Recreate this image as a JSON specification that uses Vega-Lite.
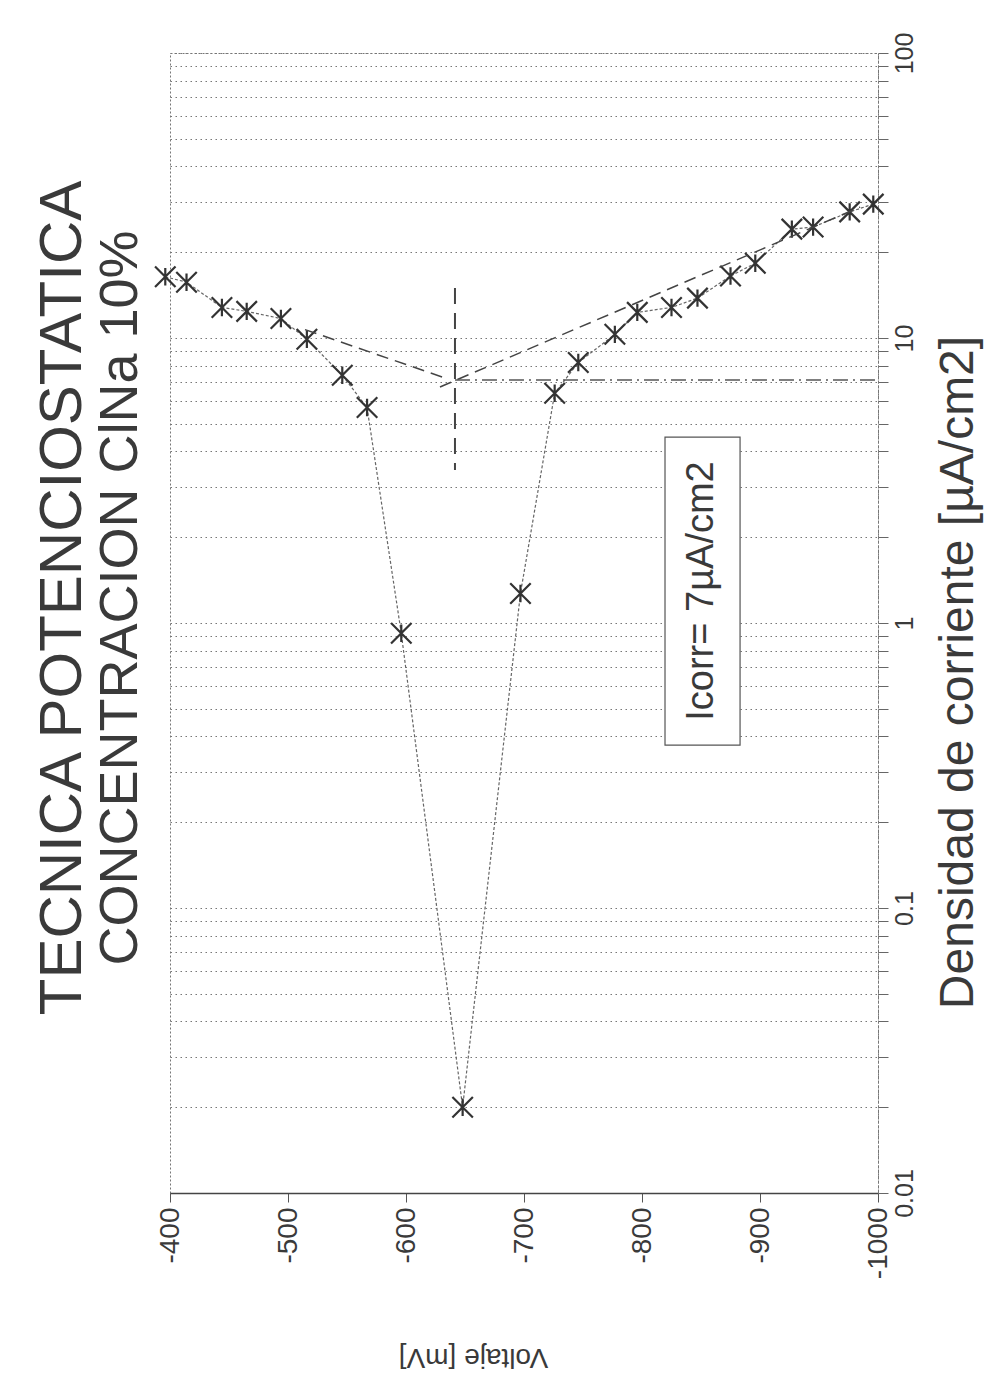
{
  "$schema": "https://vega.github.io/schema/vega-lite/v6.json",
  "width": 708,
  "height": 1140,
  "autosize": "none",
  "padding": {"left": 170, "top": 53, "right": 108, "bottom": 192},
  "background": "white",
  "config": {
    "font": "Liberation Sans",
    "view": {"stroke": "#777", "strokeDash": [2, 2], "strokeWidth": 1}
  },
  "title": {
    "text": "TECNICA POTENCIOSTATICA",
    "subtitle": "CONCENTRACION ClNa 10%",
    "orient": "left",
    "anchor": "middle",
    "font": "Liberation Sans",
    "subtitleFont": "Liberation Sans",
    "fontSize": 60,
    "subtitleFontSize": 54,
    "fontWeight": "normal",
    "subtitleFontWeight": "normal",
    "color": "#3a3a3a",
    "subtitleColor": "#3a3a3a",
    "offset": 2,
    "subtitlePadding": 0,
    "dx": 25
  },
  "datasets": {
    "curve": [
      {"V": -396, "I": 16.4},
      {"V": -414, "I": 15.7},
      {"V": -444, "I": 12.8},
      {"V": -465, "I": 12.4},
      {"V": -494, "I": 11.7},
      {"V": -516, "I": 9.9},
      {"V": -546, "I": 7.4},
      {"V": -567, "I": 5.7},
      {"V": -596, "I": 0.92},
      {"V": -648, "I": 0.02},
      {"V": -697, "I": 1.27},
      {"V": -726, "I": 6.4},
      {"V": -746, "I": 8.2},
      {"V": -777, "I": 10.3},
      {"V": -796, "I": 12.3},
      {"V": -825, "I": 12.8},
      {"V": -847, "I": 13.8},
      {"V": -875, "I": 16.5},
      {"V": -896, "I": 18.3},
      {"V": -927, "I": 24.1},
      {"V": -945, "I": 24.5},
      {"V": -976, "I": 27.7},
      {"V": -996, "I": 29.5}
    ],
    "tafel": [
      {"kind": "slope", "V": -514.4, "I": 10.7, "V2": -633.1, "I2": 7.24},
      {"kind": "slope", "V": -628.8, "I": 6.73, "V2": -984.8, "I2": 28.8},
      {"kind": "ecorr", "V": -641.5, "I": 14.97, "V2": -641.5, "I2": 3.44},
      {"kind": "icorr", "V": -641.5, "I": 7.12, "V2": -997.5, "I2": 7.12}
    ],
    "note": [
      {"label": "Icorr= 7µA/cm2", "V": -851, "I": 1.295, "Vb1": -819.5, "Vb2": -883.1, "Ib1": 4.49, "Ib2": 0.373}
    ]
  },
  "encoding": {
    "x": {
      "field": "V",
      "type": "quantitative",
      "scale": {"domain": [-1000, -400], "reverse": true, "nice": false, "zero": false},
      "axis": {
        "orient": "bottom",
        "title": "Voltaje [mV]",
        "values": [-400, -500, -600, -700, -800, -900, -1000],
        "labelExpr": "'-' + abs(datum.value)",
        "grid": false,
        "domainColor": "#444",
        "domainWidth": 1.5,
        "tickColor": "#555",
        "tickSize": 9,
        "labelAngle": 270,
        "labelAlign": "right",
        "labelBaseline": "middle",
        "labelPadding": 5,
        "labelFontSize": 28,
        "labelColor": "#3a3a3a",
        "labelFlush": false,
        "labelOverlap": false,
        "titleFontSize": 28,
        "titleFontWeight": "normal",
        "titleColor": "#3a3a3a",
        "titleAngle": 180,
        "titleAlign": "center",
        "titleBaseline": "middle",
        "titleX": 303,
        "titleY": 163
      }
    },
    "y": {
      "field": "I",
      "type": "quantitative",
      "scale": {"type": "log", "domain": [0.01, 100], "nice": false},
      "axis": {
        "orient": "right",
        "title": "Densidad de corriente [µA/cm2]",
        "values": [0.01, 0.02, 0.03, 0.04, 0.05, 0.06, 0.07, 0.08, 0.09, 0.1, 0.2, 0.3, 0.4, 0.5, 0.6, 0.7, 0.8, 0.9, 1, 2, 3, 4, 5, 6, 7, 8, 9, 10, 20, 30, 40, 50, 60, 70, 80, 90, 100],
        "labelExpr": "datum.value == 0.01 ? '0.01' : datum.value == 0.1 ? '0.1' : datum.value == 1 ? '1' : datum.value == 10 ? '10' : datum.value == 100 ? '100' : ''",
        "grid": true,
        "gridColor": "#777",
        "gridDash": [1.5, 3.5],
        "gridWidth": 1,
        "domainColor": "#777",
        "domainDash": [3, 2],
        "tickColor": "#666",
        "tickSize": 10,
        "labelAngle": 270,
        "labelAlign": "center",
        "labelBaseline": "top",
        "labelPadding": 4,
        "labelFontSize": 25,
        "labelColor": "#3a3a3a",
        "labelFlush": false,
        "labelOverlap": false,
        "labelBound": false,
        "titleFontSize": 48,
        "titleFontWeight": "normal",
        "titleColor": "#3a3a3a",
        "titleAngle": 270,
        "titleAlign": "center",
        "titleBaseline": "middle",
        "titleX": 80,
        "titleY": 619
      }
    }
  },
  "layer": [
    {
      "data": {"name": "curve"},
      "mark": {"type": "line", "color": "#666", "strokeWidth": 1.2, "strokeDash": [3, 2]}
    },
    {
      "data": {"name": "curve"},
      "mark": {
        "type": "point",
        "shape": "M-1,-1L1,1M1,-1L-1,1M0,-0.85L0,0.85",
        "filled": false,
        "stroke": "#333",
        "strokeWidth": 2.2,
        "size": 420,
        "opacity": 1
      }
    },
    {
      "data": {"name": "tafel"},
      "transform": [{"filter": "datum.kind == 'slope'"}],
      "mark": {"type": "rule", "color": "#444", "strokeWidth": 1.5, "strokeDash": [12, 7]},
      "encoding": {"x2": {"field": "V2"}, "y2": {"field": "I2"}}
    },
    {
      "data": {"name": "tafel"},
      "transform": [{"filter": "datum.kind == 'ecorr'"}],
      "mark": {"type": "rule", "color": "#444", "strokeWidth": 2, "strokeDash": [16, 9]},
      "encoding": {"x2": {"field": "V2"}, "y2": {"field": "I2"}}
    },
    {
      "data": {"name": "tafel"},
      "transform": [{"filter": "datum.kind == 'icorr'"}],
      "mark": {"type": "rule", "color": "#555", "strokeWidth": 1.5, "strokeDash": [15, 5, 2, 5]},
      "encoding": {"x2": {"field": "V2"}, "y2": {"field": "I2"}}
    },
    {
      "data": {"name": "note"},
      "mark": {"type": "rect", "fill": "white", "stroke": "#555", "strokeWidth": 1.2},
      "encoding": {
        "x": {"field": "Vb1", "type": "quantitative"},
        "x2": {"field": "Vb2"},
        "y": {"field": "Ib1", "type": "quantitative"},
        "y2": {"field": "Ib2"}
      }
    },
    {
      "data": {"name": "note"},
      "mark": {"type": "text", "angle": 270, "align": "center", "baseline": "middle", "fontSize": 38, "color": "#3a3a3a", "font": "Liberation Sans"},
      "encoding": {"text": {"field": "label"}}
    }
  ]
}
